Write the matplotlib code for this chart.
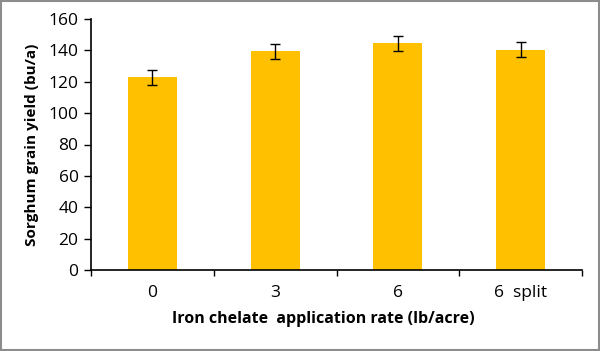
import matplotlib
matplotlib.use("Agg")
import matplotlib.pyplot as plt
from matplotlib.patches import Rectangle

categories = ["0", "3", "6", "6  split"]
yields = [123, 139.5, 144.5, 140.5]
errors = [4.8, 4.8, 4.8, 4.8]

plt.rcParams['font.family'] = ['Open Sans', 'DejaVu Sans']

fig = plt.figure(figsize=(6.0, 3.51), dpi=100)
ax = fig.add_axes([91/600, 1-270/351, (582-91)/600, (270-19)/351])

x = list(range(len(categories)))
ax.bar(x, yields, width=0.4, color="#FFC000", zorder=2)
ax.errorbar(x, yields, yerr=errors, fmt="none", ecolor="black", elinewidth=1, capsize=3.5, capthick=1, zorder=3)

ax.set_xlim(-0.5, len(categories) - 0.5)
ax.set_ylim(0, 160)
ax.set_yticks(range(0, 161, 20))
ax.set_xticks(x)
ax.set_xticklabels(categories)
ax.set_xticks([i - 0.5 for i in range(len(categories) + 1)], minor=True)
ax.tick_params(axis="x", which="major", length=0, pad=11, labelsize=12.5)
ax.tick_params(axis="x", which="minor", length=4, width=1, direction="out")
ax.tick_params(axis="y", length=5, width=1, direction="out", labelsize=12.5, pad=4)

for s in ["top", "right"]:
    ax.spines[s].set_visible(False)
for s in ["left", "bottom"]:
    ax.spines[s].set_linewidth(1.2)

ax.set_ylabel("Sorghum grain yield (bu/a)", fontsize=11, fontweight="bold")
ax.yaxis.set_label_coords((32 - 91) / 491, 0.5)
ax.set_xlabel("Iron chelate  application rate (lb/acre)", fontsize=11.5, fontweight="bold")
ax.xaxis.set_label_coords((323 - 91) / 491, -(319 - 270) / 251)
ax.xaxis.label.set_va("center")
ax.yaxis.label.set_va("center")

fig.patches.append(Rectangle((0.002, 0.003), 0.996, 0.994, transform=fig.transFigure,
                             fill=False, edgecolor="#8c8c8c", linewidth=1.5))

fig.savefig("out.png", dpi=100)
